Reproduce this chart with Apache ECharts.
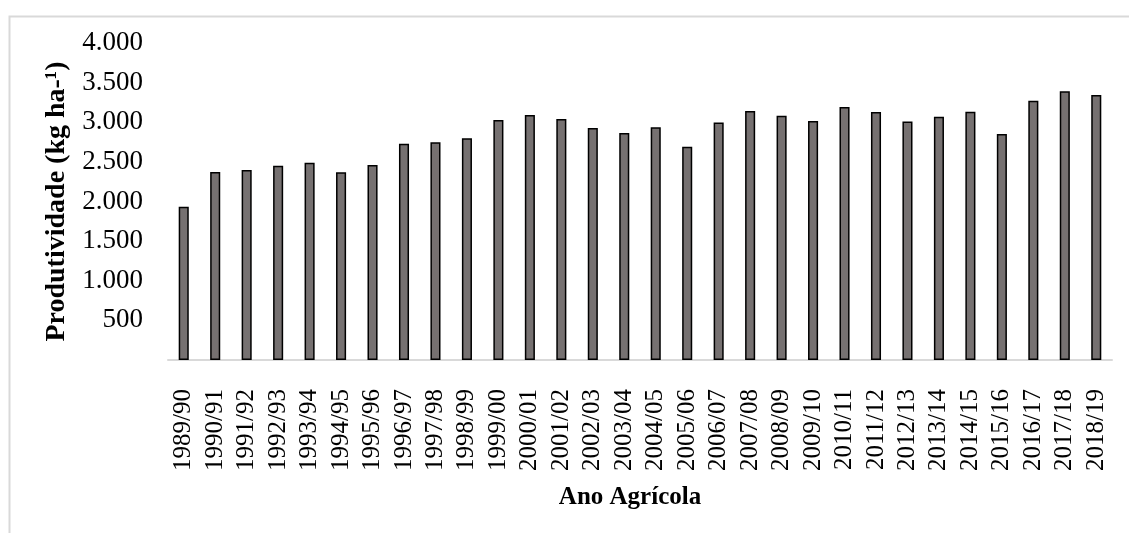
<!DOCTYPE html>
<html>
<head>
<meta charset="utf-8">
<script src="https://cdn.jsdelivr.net/npm/echarts@6/dist/echarts.min.js"></script>
<style>
html,body{margin:0;padding:0;background:#fff;}
#chart{width:1129px;height:533px;}
</style>
</head>
<body>
<div id="chart"></div>
<script>
const categories = ["1989/90","1990/91","1991/92","1992/93","1993/94","1994/95","1995/96","1996/97","1997/98","1998/99","1999/00","2000/01","2001/02","2002/03","2003/04","2004/05","2005/06","2006/07","2007/08","2008/09","2009/10","2010/11","2011/12","2012/13","2013/14","2014/15","2015/16","2016/17","2017/18","2018/19"];
const produtividade = [1933,2372,2397,2452,2490,2368,2461,2728,2747,2797,3028,3091,3041,2927,2864,2936,2691,2996,3142,3083,3016,3192,3129,3011,3070,3133,2852,3272,3390,3344];
const yTicks = [0,500,1000,1500,2000,2500,3000,3500,4000];
const yTitle = "Produtividade (kg ha-¹)";
const xTitle = "Ano Agrícola";

const font = "'Liberation Serif','Times New Roman',serif";
const chart = echarts.init(document.getElementById('chart'));
chart.setOption({
  animation: false,
  graphic: [{
    type: 'rect', left: 7, top: 14, z: -10,
    shape: {width: 1300, height: 700},
    style: {fill: 'none', stroke: '#d9d9d9', lineWidth: 2}
  }],
  grid: {left: 168, right: 17, top: 43, bottom: 173, containLabel: false},
  xAxis: {
    type: 'category',
    data: categories,
    name: xTitle,
    nameLocation: 'middle',
    nameGap: 125,
    nameTextStyle: {fontFamily: font, fontSize: 25, fontWeight: 'bold', color: '#000', padding: [0, 20, 0, 0]},
    axisLine: {lineStyle: {color: '#d9d9d9', width: 2}},
    axisTick: {show: false},
    axisLabel: {rotate: 90, interval: 0, margin: 29, fontFamily: font, fontSize: 25, color: '#000'}
  },
  yAxis: {
    type: 'value',
    min: yTicks[0], max: yTicks[yTicks.length - 1], interval: 500,
    name: yTitle,
    nameLocation: 'middle',
    nameGap: 97,
    nameRotate: 90,
    nameTextStyle: {fontFamily: font, fontSize: 28, fontWeight: 'bold', color: '#000'},
    axisLine: {show: false},
    axisTick: {show: false},
    splitLine: {show: false},
    axisLabel: {
      margin: 25, fontFamily: font, fontSize: 27, color: '#000',
      formatter: v => v === 0 ? '' : v.toLocaleString('de-DE')
    }
  },
  series: [{
    type: 'bar',
    data: produtividade,
    barWidth: '32%',
    itemStyle: {color: '#767171', borderColor: '#000', borderWidth: 1.5}
  }]
});
</script>
</body>
</html>
